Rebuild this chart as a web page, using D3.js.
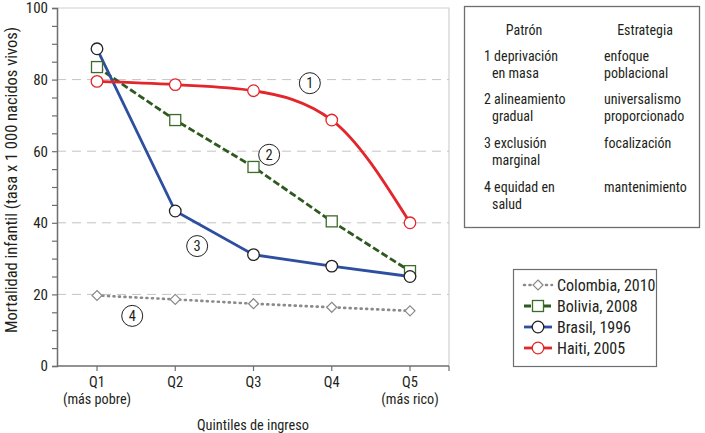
<!DOCTYPE html>
<html><head><meta charset="utf-8">
<script src="https://cdn.jsdelivr.net/npm/d3@7"></script>
<style>
body{margin:0;background:#fff;}
svg text{font-family:"Roboto Condensed","Liberation Sans Narrow","DejaVu Sans Condensed","Arial Narrow",sans-serif;fill:#231f20;}
</style></head>
<body><svg id="c" width="705" height="433"></svg>
<script>
const categories = ["Q1","Q2","Q3","Q4","Q5"];
const subLabels = ["(más pobre)","","","","(más rico)"];
const yTicks = [0,20,40,60,80,100];
const colombia = [19.7,18.6,17.4,16.4,15.4];
const bolivia = [83.5,68.7,55.6,40.4,26.5];
const brasil = [88.6,43.3,31.1,27.9,25.0];
const haiti = [79.5,78.6,76.9,68.7,40.0];
const seriesNames = ["Colombia, 2010","Bolivia, 2008","Brasil, 1996","Haiti, 2005"];
const patterns = [["1 deprivación","en masa"],["2 alineamiento","gradual"],["3 exclusión","marginal"],["4 equidad en","salud"]];
const strategies = [["enfoque","poblacional"],["universalismo","proporcionado"],["focalización"],["mantenimiento"]];
const patternLabelPos = [{q:"Q3",v:79,dx:0.72},{q:"Q3",v:59,dx:0.2},{q:"Q2",v:33.5,dx:0.28},{q:"Q1",v:14,dx:0.45}];

const svg = d3.select("#c");
const x0 = 57, x1 = 449, yTop = 8, yBot = 366;
const x = d3.scalePoint().domain(categories).range([97,410]);
const y = d3.scaleLinear().domain([0,100]).range([yBot,yTop]);

// frame (top/right)
svg.append("path").attr("d",`M${x0},${yTop}H${x1}V${yBot}`).attr("fill","none").attr("stroke","#d0d0d0").attr("stroke-width",1.2);

// gridlines
svg.append("g").selectAll("line").data(yTicks.filter(d=>d>0&&d<100)).join("line")
 .attr("x1",x0).attr("x2",x1).attr("y1",d=>y(d)).attr("y2",d=>y(d))
 .attr("stroke","#c4c4c4").attr("stroke-width",1).attr("stroke-dasharray","9,6");

// y axis
const yAxis = svg.append("g").attr("transform",`translate(${x0},0)`)
 .call(d3.axisLeft(y).tickValues(d3.range(0,101,5)).tickSize(5).tickFormat(d=>yTicks.includes(d)?d:""));
yAxis.select(".domain").attr("stroke","#6d6e71").attr("stroke-width",1.5);
yAxis.selectAll(".tick line").attr("stroke","#6d6e71").attr("stroke-width",1.2);
yAxis.selectAll(".tick text").attr("font-size",15).attr("x",-9);

// x axis
const xAxis = svg.append("g").attr("transform",`translate(0,${yBot})`);
xAxis.append("line").attr("x1",x0).attr("x2",x1).attr("y1",0).attr("y2",0).attr("stroke","#6d6e71").attr("stroke-width",1.5);
xAxis.selectAll("line.t").data(categories).join("line").attr("class","t")
 .attr("x1",d=>x(d)).attr("x2",d=>x(d)).attr("y1",0).attr("y2",5).attr("stroke","#6d6e71").attr("stroke-width",1.2);
xAxis.append("line").attr("x1",x1).attr("x2",x1).attr("y1",0).attr("y2",5).attr("stroke","#6d6e71").attr("stroke-width",1.2);
xAxis.selectAll("text.q").data(categories).join("text").attr("class","q")
 .attr("x",d=>x(d)).attr("y",21).attr("text-anchor","middle").attr("font-size",14.5).text(d=>d);
xAxis.selectAll("text.s").data(subLabels).join("text").attr("class","s")
 .attr("x",(d,i)=>x(categories[i])).attr("y",38).attr("text-anchor","middle").attr("font-size",14.2).text(d=>d);

// titles
svg.append("text").attr("x",253).attr("y",430).attr("text-anchor","middle").attr("font-size",14.3).text("Quintiles de ingreso");
svg.append("text").attr("transform","translate(17,180) rotate(-90)").attr("text-anchor","middle").attr("font-size",16.5)
 .text("Mortalidad infantil (tasa x 1 000 nacidos vivos)");

const styles = [
 {data:colombia,color:"#8a8a8a",width:2.6,dash:"1,4.5",cap:"round",marker:"diamond",curve:d3.curveLinear,mstroke:"#8a8a8a"},
 {data:bolivia,color:"#2f5a1f",width:2.8,dash:"7,3",cap:"butt",marker:"square",curve:d3.curveLinear,mstroke:"#3c6b2a"},
 {data:brasil,color:"#2e4f9f",width:2.8,dash:null,cap:"butt",marker:"circle",curve:d3.curveLinear,mstroke:"#222"},
 {data:haiti,color:"#e3262b",width:2.8,dash:null,cap:"butt",marker:"circle",curve:d3.curveMonotoneX,mstroke:"#e3262b"}
];

function drawMarker(g,type,cx,cy,stroke){
 if(type==="circle") g.append("circle").attr("cx",cx).attr("cy",cy).attr("r",5.8).attr("fill","#fff").attr("stroke",stroke).attr("stroke-width",1.3);
 else if(type==="square") g.append("rect").attr("x",cx-5.5).attr("y",cy-5.5).attr("width",11).attr("height",11).attr("fill","#fff").attr("stroke",stroke).attr("stroke-width",1.3);
 else g.append("path").attr("d",`M${cx},${cy-5}L${cx+5},${cy}L${cx},${cy+5}L${cx-5},${cy}Z`).attr("fill","#fff").attr("stroke",stroke).attr("stroke-width",1.2);
}

styles.forEach(s=>{
 const line = d3.line().x((d,i)=>x(categories[i])).y(d=>y(d)).curve(s.curve);
 svg.append("path").attr("d",line(s.data)).attr("fill","none").attr("stroke",s.color).attr("stroke-width",s.width)
  .attr("stroke-dasharray",s.dash).attr("stroke-linecap",s.cap);
});
styles.forEach(s=>{
 const g = svg.append("g");
 s.data.forEach((v,i)=>drawMarker(g,s.marker,x(categories[i]),y(v),s.mstroke));
});

// pattern number labels
const step = x("Q2")-x("Q1");
patternLabelPos.forEach((p,i)=>{
 const cx = x(p.q)+p.dx*step, cy = y(p.v);
 svg.append("circle").attr("cx",cx).attr("cy",cy).attr("r",10.5).attr("fill","#fff").attr("stroke","#231f20").attr("stroke-width",1);
 svg.append("text").attr("x",cx).attr("y",cy+5).attr("text-anchor","middle").attr("font-size",14.5).text(i+1);
});

// pattern/strategy box
svg.append("rect").attr("x",464.5).attr("y",6.5).attr("width",235).attr("height",221).attr("fill","#fff").attr("stroke","#6d6e71").attr("stroke-width",1.3);
svg.append("text").attr("x",524).attr("y",35).attr("text-anchor","middle").attr("font-size",14).text("Patrón");
svg.append("text").attr("x",645).attr("y",35).attr("text-anchor","middle").attr("font-size",14).text("Estrategia");
const rowY = [61,104,148,192];
patterns.forEach((lines,i)=>{
 lines.forEach((t,j)=>svg.append("text").attr("x",j===0?484:492).attr("y",rowY[i]+j*16.5).attr("font-size",14).text(t));
 strategies[i].forEach((t,j)=>svg.append("text").attr("x",604).attr("y",rowY[i]+j*16.5).attr("font-size",14).text(t));
});

// legend
svg.append("rect").attr("x",513.5).attr("y",269.5).attr("width",143).attr("height",97).attr("fill","#fff").attr("stroke","#6d6e71").attr("stroke-width",1.2);
const legY = [285,306,327,348];
styles.forEach((s,i)=>{
 const ly = legY[i];
 svg.append("line").attr("x1",524).attr("x2",552).attr("y1",ly).attr("y2",ly).attr("stroke",s.color).attr("stroke-width",s.width)
  .attr("stroke-dasharray",s.dash).attr("stroke-linecap",s.cap);
 drawMarker(svg,s.marker,538,ly,s.mstroke);
 svg.append("text").attr("x",557).attr("y",ly+5.5).attr("font-size",16).text(seriesNames[i]);
});
</script></body></html>
